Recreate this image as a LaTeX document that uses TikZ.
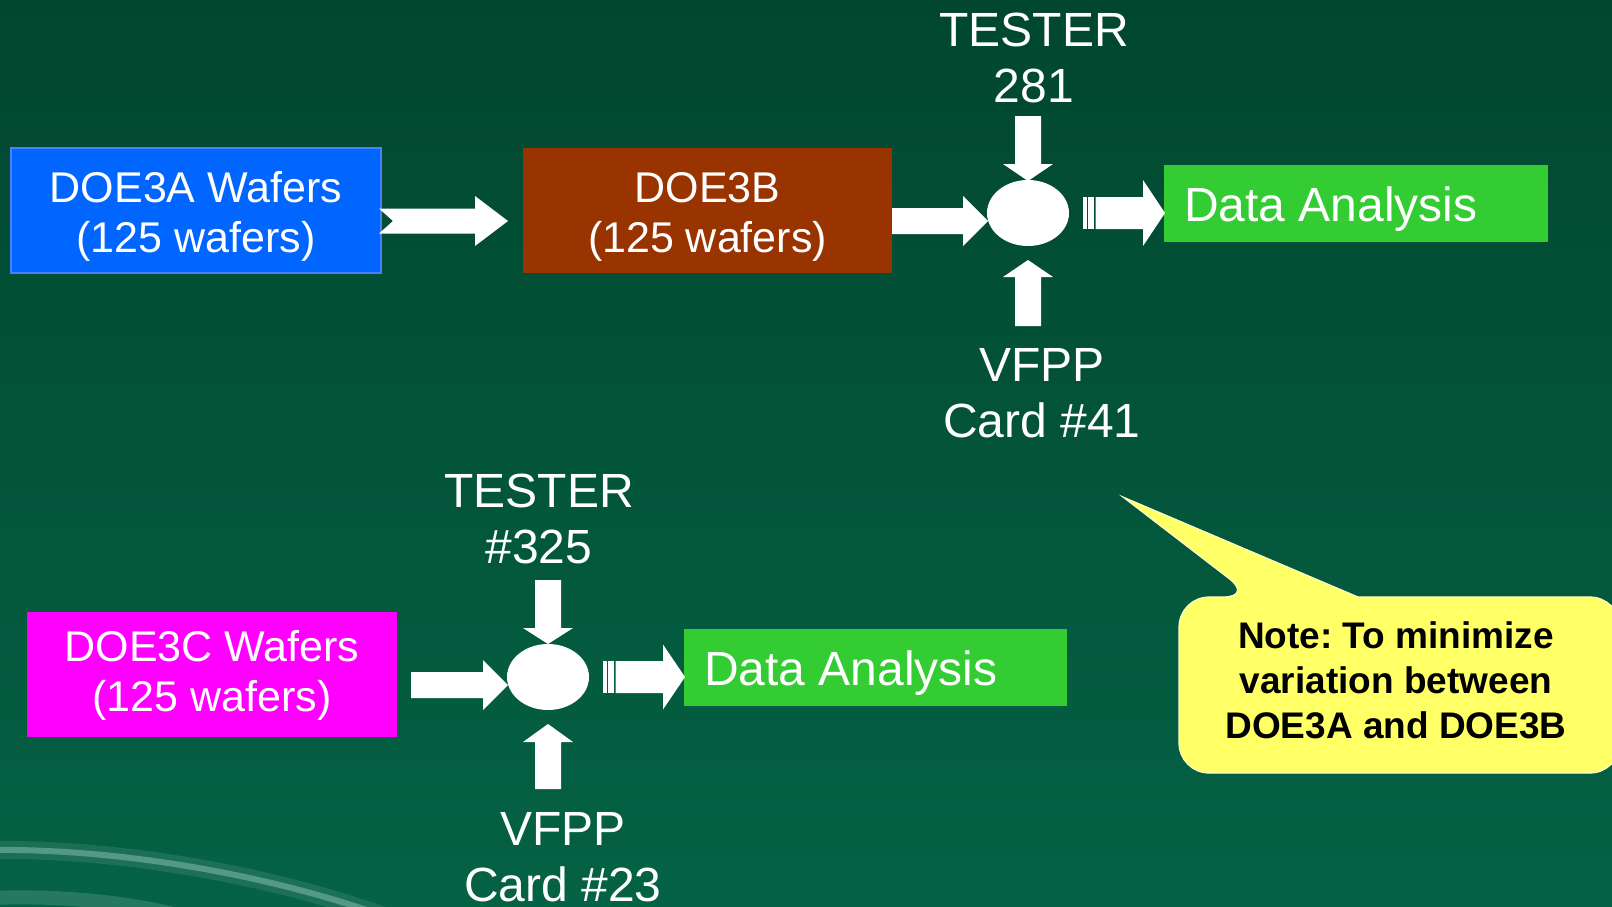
\documentclass[tikz,border=0pt]{standalone}
\usepackage{fontspec}
\setmainfont{Liberation Sans}
\frenchspacing
\usetikzlibrary{calc,shapes.geometric}
\definecolor{bgtop}{HTML}{01472F}
\definecolor{bgbot}{HTML}{056244}
\definecolor{doeA}{HTML}{0066FF}
\definecolor{doeAedge}{HTML}{4A80FF}
\definecolor{doeB}{HTML}{993300}
\definecolor{doeC}{HTML}{FF00FF}
\definecolor{dagreen}{HTML}{33CC33}
\definecolor{noteyel}{HTML}{FFFF66}
\definecolor{swooshc}{HTML}{9CCBBE}

% start, end, body half width, head half width, head length
\newcommand\blockarrow[5]{%
  \coordinate (bah) at ($(#2)!#5!(#1)$);
  \fill[arrowfill] ($(#1)!#3!90:(#2)$) -- ($(bah)!#3!90:(#2)$) -- ($(bah)!#4!90:(#2)$) -- (#2)
    -- ($(bah)!#4!-90:(#2)$) -- ($(bah)!#3!-90:(#2)$) -- ($(#1)!#3!-90:(#2)$) -- cycle;}
\newcommand\notcharrow[6]{%
  \coordinate (bah) at ($(#2)!#5!(#1)$);
  \fill[arrowfill] ($(#1)!#3!90:(#2)$) -- ($(bah)!#3!90:(#2)$) -- ($(bah)!#4!90:(#2)$) -- (#2)
    -- ($(bah)!#4!-90:(#2)$) -- ($(bah)!#3!-90:(#2)$) -- ($(#1)!#3!-90:(#2)$) -- ($(#1)!#6!(#2)$) -- cycle;}
\newcommand\stripearrow[5]{%
  \coordinate (bsa) at ($(#1)!4pt!(#2)$);
  \coordinate (bsb) at ($(#1)!5pt!(#2)$);
  \coordinate (bsc) at ($(#1)!11pt!(#2)$);
  \coordinate (bsd) at ($(#1)!12.5pt!(#2)$);
  \fill[arrowfill] ($(#1)!#3!90:(#2)$) -- ($(bsa)!#3!90:(#2)$) -- ($(bsa)!#3!-90:(#2)$) -- ($(#1)!#3!-90:(#2)$) -- cycle;
  \fill[arrowfill] ($(bsb)!#3!90:(#2)$) -- ($(bsc)!#3!90:(#2)$) -- ($(bsc)!#3!-90:(#2)$) -- ($(bsb)!#3!-90:(#2)$) -- cycle;
  \blockarrow{bsd}{#2}{#3}{#4}{#5}}

\begin{document}
\begin{tikzpicture}[x=1pt,y=-1pt,
  boxshape/.style={rectangle, inner sep=0pt, outer sep=0pt},
  boxtext/.style={text=white, align=center, inner sep=0pt, font=\fontsize{43pt}{50pt}\selectfont},
  lbl/.style={text=white, align=center, inner sep=0pt, font=\fontsize{48pt}{56pt}\selectfont},
  datatext/.style={text=white, inner sep=0pt, font=\fontsize{48pt}{56pt}\selectfont},
  notetext/.style={text=black, align=center, inner sep=0pt, font=\bfseries\fontsize{37pt}{45pt}\selectfont},
  junction/.style={ellipse, fill=white, minimum width=82pt, minimum height=66pt, inner sep=0pt, outer sep=0pt},
  arrowfill/.style={fill=white},
  callout/.style={fill=noteyel, draw=white!65!noteyel, line width=1.2pt},
  swoosh/.style={draw=swooshc, line cap=round}]

\useasboundingbox (0,0) rectangle (1612,906);
\clip (0,0) rectangle (1612,906);
\fill[top color=bgtop, bottom color=bgbot] (0,0) rectangle (1612,906);

% decorative swoosh bottom-left
\draw[swoosh, line width=18pt, opacity=0.15] (-10,850) .. controls (130,848) and (300,880) .. (420,930);
\draw[swoosh, line width=6pt, opacity=0.45] (-10,850) .. controls (130,848) and (300,880) .. (420,930);
\draw[swoosh, line width=14pt, opacity=0.22] (-10,898) .. controls (60,895) and (150,902) .. (220,928);

% ---- top row ----
\node[boxshape, fill=doeA, draw=doeAedge, line width=1.5pt, minimum width=370pt, minimum height=125pt] (a) at (196,210.5) {};
\node[boxtext, anchor=base] (atext) at (196,252) {DOE3A Wafers\\(125 wafers)};
\node[boxshape, fill=doeB, minimum width=369pt, minimum height=125pt] (b) at (707.5,210.5) {};
\node[boxtext, anchor=base] (btext) at (707.5,252) {DOE3B\\(125 wafers)};
\node[junction] (e1) at (1028,213) {};
\node[boxshape, fill=dagreen, minimum width=384pt, minimum height=77pt] (g1) at (1356,203.5) {};
\node[datatext, anchor=base west] (g1text) at (1184,221) {Data Analysis};
\node[lbl, anchor=base] (t1) at (1034,102) {TESTER\\281};
\node[lbl, anchor=base] (v1) at (1042,437) {VFPP\\Card \#41};

\coordinate (ar1s) at ($(a.east)+(-2,10.5)$);
\coordinate (ar1e) at ($(b.west)+(-15,10.5)$);
\notcharrow{ar1s}{ar1e}{12.5pt}{25pt}{33pt}{14pt}
\coordinate (ar2s) at ($(b.east)+(0,10.5)$);
\coordinate (ar2e) at ($(e1.west)+(1,8)$);
\blockarrow{ar2s}{ar2e}{13pt}{25pt}{25pt}
\coordinate (ar3s) at ($(e1.east)+(14,0)$);
\coordinate (ar3e) at ($(g1.west)+(1,9.5)$);
\stripearrow{ar3s}{ar3e}{16pt}{33pt}{22pt}
\coordinate (ar4s) at ($(e1.north)+(0,-64)$);
\coordinate (ar4e) at ($(e1.north)+(0,1)$);
\blockarrow{ar4s}{ar4e}{13pt}{25pt}{17pt}
\coordinate (ar5s) at ($(e1.south)+(0,80)$);
\coordinate (ar5e) at ($(e1.south)+(0,14)$);
\blockarrow{ar5s}{ar5e}{13pt}{25pt}{17pt}

% ---- bottom row ----
\node[boxshape, fill=doeC, minimum width=370pt, minimum height=125pt] (c) at (212,674.5) {};
\node[boxtext, anchor=base] (ctext) at (212,711) {DOE3C Wafers\\(125 wafers)};
\node[junction] (e2) at (548,677) {};
\node[boxshape, fill=dagreen, minimum width=383pt, minimum height=77pt] (g2) at (875.5,667.5) {};
\node[datatext, anchor=base west] (g2text) at (704,685) {Data Analysis};
\node[lbl, anchor=base] (t2) at (539,563) {TESTER\\\#325};
\node[lbl, anchor=base] (v2) at (563,901) {VFPP\\Card \#23};

\coordinate (br1s) at ($(c.east)+(14,10.5)$);
\coordinate (br1e) at ($(e2.west)+(1,8)$);
\blockarrow{br1s}{br1e}{13pt}{25pt}{25pt}
\coordinate (br2s) at ($(e2.east)+(14,0)$);
\coordinate (br2e) at ($(g2.west)+(1,9.5)$);
\stripearrow{br2s}{br2e}{16pt}{32.5pt}{22pt}
\coordinate (br3s) at ($(e2.north)+(0,-64)$);
\coordinate (br3e) at (e2.north);
\blockarrow{br3s}{br3e}{13pt}{25pt}{16pt}
\coordinate (br4s) at ($(e2.south)+(0,79)$);
\coordinate (br4e) at ($(e2.south)+(0,14)$);
\blockarrow{br4s}{br4e}{13pt}{25pt}{18pt}

% ---- callout ----
\draw[callout] (1358,597) [rounded corners=30pt] -- (1620,597) -- (1620,773) -- (1179,773) -- (1179,597) -- (1253,597) [sharp corners] -- (1123,497) -- cycle;
\node[notetext, anchor=base] (note) at (1396,738) {Note: To minimize\\variation between\\DOE3A and DOE3B};
\end{tikzpicture}
\end{document}
